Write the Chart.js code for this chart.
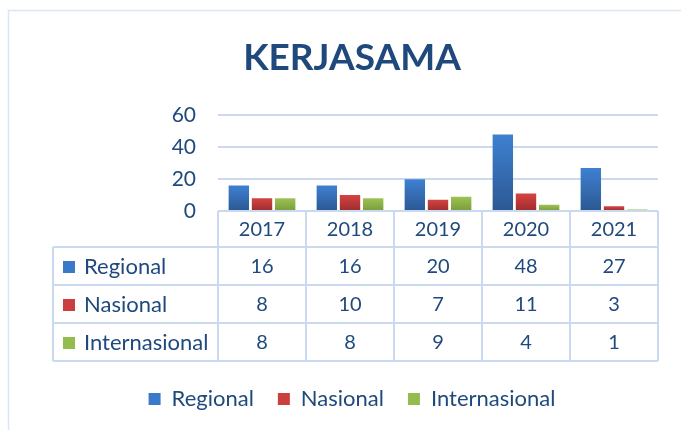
<!DOCTYPE html>
<html>
<head>
<meta charset="utf-8">
<script src="https://cdn.jsdelivr.net/npm/chart.js@4.4.1/dist/chart.umd.min.js"></script>
<style>
  html, body { margin: 0; padding: 0; background: #fff; }
  #wrap { width: 681px; height: 430px; position: relative; }
</style>
</head>
<body>
<div id="wrap"><canvas id="chartKerjasama"></canvas></div>
<script>
const tahun = ["2017", "2018", "2019", "2020", "2021"];
const regional = [16, 16, 20, 48, 27];
const nasional = [8, 10, 7, 11, 3];
const internasional = [8, 8, 9, 4, 1];
const yTicks = [0, 20, 40, 60];

const warnaTeks = "#1f497d";
const warnaGaris = "#c9daf0";

// gradient per bar, like the Excel fill
function isiBar(atas, bawah, polos) {
    return ctx => {
        if (ctx.type !== "data") return polos;
        const chart = ctx.chart;
        const y = chart.scales.y;
        if (!y || !chart.chartArea) return polos;
        const yTop = y.getPixelForValue(ctx.raw);
        const yBase = y.getPixelForValue(0);
        if (yBase - yTop < 2) return polos;
        const g = chart.ctx.createLinearGradient(0, yTop, 0, yBase);
        g.addColorStop(0, atas);
        g.addColorStop(1, bawah);
        return g;
    };
}

// data table under the plot, drawn from the chart data
const tabelData = {
    id: "tabelData",
    afterDraw(chart) {
        const { ctx, chartArea, scales } = chart;
        const x = scales.x;
        const lebar = (chartArea.right - chartArea.left) / tahun.length;
        const kiriTabel = 53;
        const atas = chartArea.bottom;
        const tinggiHeader = 36;
        const tinggiBaris = 38;
        const bawah = atas + tinggiHeader + tinggiBaris * chart.data.datasets.length;

        ctx.save();
        ctx.strokeStyle = warnaGaris;
        ctx.lineWidth = 2;
        ctx.beginPath();
        for (let i = 0; i <= tahun.length; i++) {
            const xx = chartArea.left + i * lebar;
            ctx.moveTo(xx, atas);
            ctx.lineTo(xx, bawah);
        }
        ctx.moveTo(kiriTabel, atas + tinggiHeader);
        ctx.lineTo(kiriTabel, bawah);
        ctx.moveTo(chartArea.left, atas);
        ctx.lineTo(chartArea.right, atas);
        for (let r = 0; r <= chart.data.datasets.length; r++) {
            const yy = atas + tinggiHeader + r * tinggiBaris;
            ctx.moveTo(kiriTabel, yy);
            ctx.lineTo(chartArea.right, yy);
        }
        ctx.stroke();

        ctx.fillStyle = warnaTeks;
        ctx.font = "20px Lato";
        ctx.textAlign = "center";
        ctx.textBaseline = "middle";
        tahun.forEach((t, i) => {
            ctx.fillText(t, x.getPixelForValue(i), atas + tinggiHeader / 2 + 1);
        });

        chart.data.datasets.forEach((ds, r) => {
            const yMid = atas + tinggiHeader + r * tinggiBaris + tinggiBaris / 2 + 1;
            ctx.fillStyle = ds.warnaPolos;
            ctx.fillRect(kiriTabel + 10, yMid - 6, 12, 12);
            ctx.fillStyle = warnaTeks;
            ctx.textAlign = "left";
            ctx.font = "22px Lato";
            ctx.fillText(ds.label, kiriTabel + 31, yMid);
            ctx.textAlign = "center";
            ctx.font = "20px Lato";
            ds.data.forEach((v, i) => {
                ctx.fillText(String(v), x.getPixelForValue(i), yMid);
            });
        });
        ctx.restore();
    }
};

const bingkai = {
    id: "bingkai",
    beforeDraw(chart) {
        const ctx = chart.ctx;
        ctx.save();
        ctx.strokeStyle = "#dbe5f3";
        ctx.lineWidth = 1.5;
        ctx.strokeRect(8.5, 10.5, 720, 460);
        ctx.restore();
    }
};

Chart.defaults.font.family = "Lato";
Chart.defaults.color = warnaTeks;

new Chart(document.getElementById("chartKerjasama"), {
    type: "bar",
    data: {
        labels: tahun,
        datasets: [{
            label: "Regional",
            data: regional,
            warnaPolos: "#3a78c8",
            backgroundColor: isiBar("#3f80d2", "#2b5892", "#3a78c8"),
            borderWidth: 0
        }, {
            label: "Nasional",
            data: nasional,
            warnaPolos: "#cc3e3e",
            backgroundColor: isiBar("#d44343", "#9e2c2c", "#cc3e3e"),
            borderWidth: 0
        }, {
            label: "Internasional",
            data: internasional,
            warnaPolos: "#94bb4e",
            backgroundColor: isiBar("#9cc352", "#7a9c3c", "#94bb4e"),
            borderWidth: 0
        }]
    },
    options: {
        responsive: true,
        maintainAspectRatio: false,
        animation: false,
        categoryPercentage: 0.79,
        barPercentage: 0.88,
        layout: {
            padding: { left: 46, right: 23, top: 0, bottom: 10 }
        },
        plugins: {
            title: {
                display: true,
                text: "KERJASAMA",
                color: warnaTeks,
                font: { size: 37, weight: "bold", family: "Lato" },
                padding: { top: 36, bottom: 35 }
            },
            legend: {
                position: "bottom",
                labels: {
                    boxWidth: 12,
                    boxHeight: 12,
                    padding: 24,
                    color: warnaTeks,
                    font: { size: 22 },
                    generateLabels: chart => chart.data.datasets.map((ds, i) => ({
                        text: ds.label,
                        fillStyle: ds.warnaPolos,
                        strokeStyle: ds.warnaPolos,
                        lineWidth: 0,
                        fontColor: warnaTeks,
                        hidden: !chart.isDatasetVisible(i),
                        datasetIndex: i
                    }))
                }
            },
            tooltip: { enabled: false }
        },
        scales: {
            x: {
                grid: { display: false },
                border: { display: false },
                ticks: { display: false },
                afterFit: scale => { scale.height = 153; }
            },
            y: {
                min: 0,
                max: 60,
                afterBuildTicks: scale => {
                    scale.ticks = yTicks.map(v => ({ value: v }));
                },
                afterFit: scale => { scale.width = 172; },
                grid: { color: warnaGaris, lineWidth: 2, drawTicks: false },
                border: { display: false },
                ticks: {
                    padding: 22,
                    color: warnaTeks,
                    font: { size: 21 }
                }
            }
        }
    },
    plugins: [bingkai, tabelData]
});
</script>
</body>
</html>
